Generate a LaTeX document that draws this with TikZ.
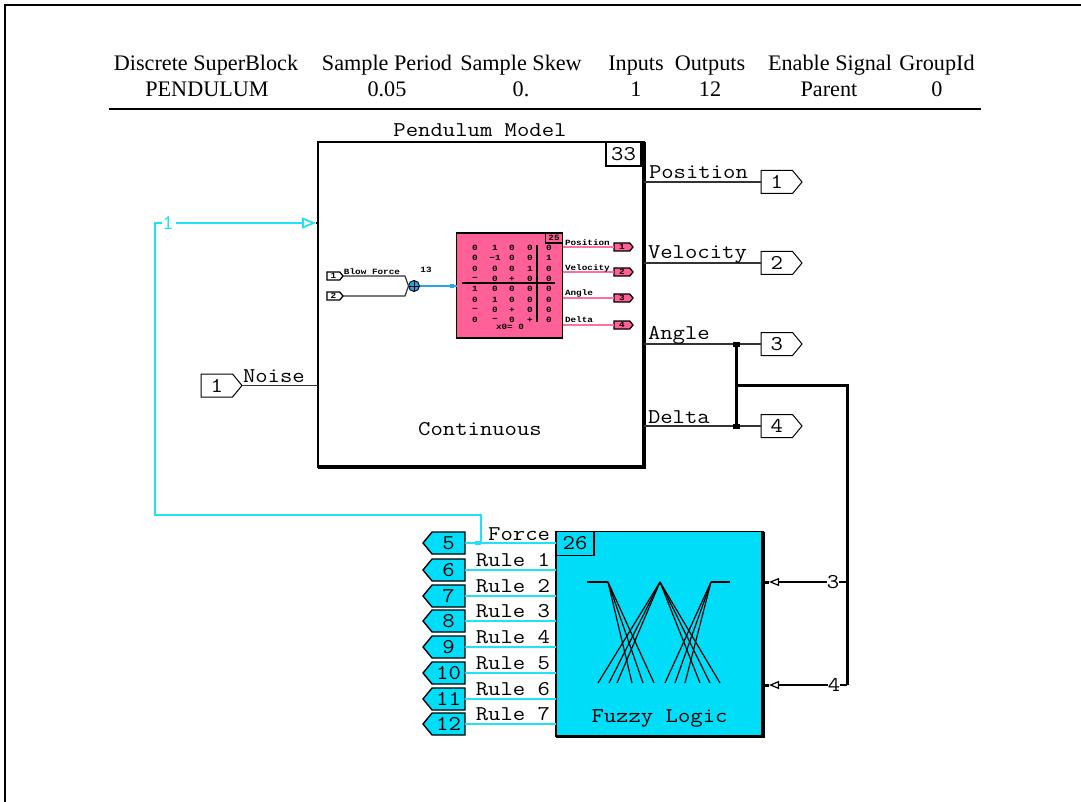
\documentclass[tikz,border=0pt]{standalone}
\usepackage{fontspec}
\usetikzlibrary{shapes.symbols,arrows.meta}
\setmainfont{Liberation Serif}
\newfontfamily\monof[FakeStretch=1.143]{Latin Modern Mono}
\newfontfamily\tinyf[FakeStretch=1.167]{Liberation Mono Bold}
\definecolor{fzcyan}{HTML}{00DDF8}
\definecolor{wirecyan}{HTML}{1FE3F5}
\definecolor{blkpink}{HTML}{FF6098}
\definecolor{wirepink}{HTML}{FF70A0}
\definecolor{sumblue}{HTML}{25A5E8}
\tikzset{
  every node/.style={inner sep=0pt,outer sep=0pt},
  hdr/.style={font=\fontsize{22.2}{22.2}\selectfont,anchor=base},
  lbl/.style={font=\monof\fontsize{21}{21}\selectfont},
  tiny/.style={font=\tinyf\fontsize{8}{8}\selectfont},
  block/.style={draw=black,line width=1.5pt,anchor=north west},
  nbox/.style={draw=black,line width=1.2pt,anchor=north east,lbl,align=center},
  outr/.style={signal,signal to=east,signal from=nowhere,signal pointer angle=101,draw=black,line width=1pt,minimum width=41pt,minimum height=23pt,anchor=west,lbl},
  outl/.style={signal,signal to=west,signal from=nowhere,signal pointer angle=101,draw=black,line width=1.4pt,fill=fzcyan,minimum width=42pt,minimum height=22pt,anchor=east,lbl},
  mport/.style={signal,signal to=east,signal from=nowhere,signal pointer angle=101,draw=black,line width=1.3pt,minimum width=19pt,minimum height=8pt,anchor=west,tiny},
  wire/.style={draw=black!80,line width=1.4pt},
  cwire/.style={draw=wirecyan,line width=1.8pt},
  bus/.style={draw=black,line width=3pt},
  dotj/.style={fill=black,minimum width=7pt,minimum height=5pt},
  fan/.style={draw=black,line width=1.2pt},
  opena/.style={-{Triangle[open,length=14pt,width=11pt]}},
  openb/.style={-{Triangle[open,length=10pt,width=8pt]}},
}
\begin{document}
\begin{tikzpicture}[x=1pt,y=-1pt]
\useasboundingbox (0,0) rectangle (1081,802);
\fill[white] (0,0) rectangle (1081,802);
\draw[black,line width=2pt] (5,802) -- (5,5) -- (1081,5);
% header
\node[hdr] (h1) at (206,71) {Discrete SuperBlock};
\node[hdr] (h2) at (387,71) {Sample Period};
\node[hdr] (h3) at (521,71) {Sample Skew};
\node[hdr] (h4) at (636,71) {Inputs};
\node[hdr] (h5) at (710,71) {Outputs};
\node[hdr] (h6) at (830,71) {Enable Signal};
\node[hdr] (h7) at (937,71) {GroupId};
\node[hdr] (v1) at (207,96.5) {PENDULUM};
\node[hdr] (v2) at (387,96.5) {0.05};
\node[hdr] (v3) at (521,96.5) {0.};
\node[hdr] (v4) at (636,96.5) {1};
\node[hdr] (v5) at (710,96.5) {12};
\node[hdr] (v6) at (829,96.5) {Parent};
\node[hdr] (v7) at (937,96.5) {0};
\draw[black,line width=2.6pt] (109,109) -- (981,109);
% pendulum block
\node[block,minimum width=326pt,minimum height=325pt] (pm) at (318,142) {};
\draw[black,line width=3.5pt] (pm.north east) -- (pm.south east) -- (pm.south west);
\node[nbox,minimum width=35pt,minimum height=24pt] (pmn) at (641,142) {33};
\node[lbl] (pmt) at (480,130) {Pendulum Model};
\node[lbl] (pmc) at (480,429.5) {Continuous};
% outports
\node[outr] (o1) at (761,182) {1};
\node[outr] (o2) at (761,263) {2};
\node[outr] (o3) at (761,344) {3};
\node[outr] (o4) at (761,426) {4};
\foreach \n in {1,2,3,4} \draw[wire] (pm.east |- o\n.west) -- (o\n.west);
\node[lbl,anchor=west] (lp) at (649,172.5) {Position};
\node[lbl,anchor=west] (lv) at (648,254.5) {Velocity};
\node[lbl,anchor=west] (la) at (648,335.5) {Angle};
\node[lbl,anchor=west] (ld) at (648,417.5) {Delta};
\node[dotj] (j3) at (736,344) {};
\node[dotj] (j4) at (736,426) {};
\draw[bus] (j3) -- (j4);
% inport noise
\node[outr] (in1) at (201,385.5) {1};
\draw[wire] (in1.east) -- (pm.west |- in1.east);
\node[lbl,anchor=west] (ln) at (243,376.5) {Noise};
% inner pink block
\node[draw=black,line width=1.3pt,fill=blkpink,minimum width=106pt,minimum height=105pt,anchor=north west] (ib) at (456.5,233) {};
\node[draw=black,line width=1.1pt,anchor=north east,minimum width=17pt,minimum height=10pt,tiny] (ibn) at (ib.north east) {25};
\draw[black,line width=1.2pt] (537,245) -- (537,322);
\draw[black,line width=1.2pt] (462,283) -- (555,283);
\foreach \r/\yy/\a/\b/\c/\d/\e in {1/247.5/0/1/0/0/0,2/257.5/0/−1/0/0/1,3/268.5/0/0/0/1/0,4/279/−/0/+/0/0,5/289/1/0/0/0/0,6/300/0/1/0/0/0,7/310/−/0/+/0/0,8/320/0/−/0/+/0}{
  \node[tiny] (ma\r) at (475,\yy) {\a};
  \node[tiny] (mb\r) at (495,\yy) {\b};
  \node[tiny] (mc\r) at (512,\yy) {\c};
  \node[tiny] (md\r) at (530,\yy) {\d};
  \node[tiny] (me\r) at (549,\yy) {\e};
}
\node[tiny] (mx) at (510,327) {x0= 0};
\node[mport,fill=blkpink] (po1) at (614,247) {1};
\node[mport,fill=blkpink] (po2) at (614,272) {2};
\node[mport,fill=blkpink] (po3) at (614,298) {3};
\node[mport,fill=blkpink] (po4) at (614,325) {4};
\foreach \n in {1,2,3,4} \draw[draw=wirepink,line width=1.4pt] (ib.east |- po\n.west) -- (po\n.west);
\node[tiny,anchor=west] (pl1) at (565,243) {Position};
\node[tiny,anchor=west] (pl2) at (565,268) {Velocity};
\node[tiny,anchor=west] (pl3) at (565,293) {Angle};
\node[tiny,anchor=west] (pl4) at (565,320) {Delta};
\node[mport,minimum width=16pt] (pi1) at (327,276) {1};
\node[mport,minimum width=16pt] (pi2) at (327,296) {2};
\node[circle,draw=black,line width=.9pt,fill=sumblue,minimum size=11pt] (sum) at (414,286) {};
\draw[black,line width=.8pt] (sum.west) -- (sum.east) (sum.north) -- (sum.south);
\draw[black!80,line width=1.2pt] (pi1.east) -- (405,276) -- (sum.west);
\draw[black!80,line width=1.2pt] (pi2.east) -- (405,296) -- (sum.west);
\node[tiny,anchor=center] (pif) at (372,271.5) {Blow Force};
\node[tiny] (sn) at (426,270) {13};
\draw[draw=sumblue,line width=1.8pt] (sum.east) -- (ib.west |- sum.east);
\node[fill=sumblue,minimum width=4pt,minimum height=4pt] (sd) at (451.5,285.5) {};
% fuzzy block
\node[block,draw=black,fill=fzcyan,minimum width=207pt,minimum height=205pt] (fz) at (556,531.5) {};
\draw[black,line width=3.5pt] (fz.north east) -- (fz.south east) -- (fz.south west);
\node[block,line width=1.2pt,minimum width=38pt,minimum height=24pt,lbl] (fzn) at (556,531.5) {26};
\node[lbl] (fzt) at (659.5,718.5) {Fuzzy Logic};
% fuzzy icon
\draw[fan] (587,582) -- (608,582);
\foreach \b in {632,643,654} \draw[fan] (608,582) -- (\b,683);
\foreach \b in {598,609,617} \draw[fan] (660,582) -- (\b,683);
\foreach \b in {700,710,720} \draw[fan] (660,582) -- (\b,683);
\foreach \b in {665,675,685} \draw[fan] (711,582) -- (\b,683);
\draw[fan] (711,582) -- (730,582);
% left outports
\foreach \n/\yy in {5/543,6/570,7/596,8/621,9/647,10/673,11/699,12/724}{
  \node[outl] (f\n) at (465,\yy) {\n};
}
\foreach \n in {5,6,7,8,9,10,11,12} \draw[cwire] (f\n.east) -- (fz.west |- f\n.east);
\node[lbl,anchor=east] (fr0) at (550,534.5) {Force};
\foreach \n/\yy/\t in {1/560.5/Rule 1,2/586.5/Rule 2,3/611.5/Rule 3,4/637.5/Rule 4,5/663.5/Rule 5,6/689.5/Rule 6,7/714.5/Rule 7}{
  \node[lbl,anchor=east] (fr\n) at (550,\yy) {\t};
}
% feedback
\node[fill=wirecyan,minimum width=6pt,minimum height=4pt] (fd) at (478,543) {};
\node[lbl,text=wirecyan] (fb) at (168,223) {1};
\coordinate (fa) at (481,515);
\coordinate (fc) at (155,515);
\coordinate (fe) at (155,223);
\coordinate (ft) at (316,223);
\draw[cwire] (481,543) -- (fa) -- (fc) -- (fe) -- (fb.west);
\draw[cwire,opena] (176,223) -- (ft);
\draw[black,line width=1.5pt] (ft) -- (pm.west |- ft);
% feedback from states
\coordinate (bj) at (736,385);
\coordinate (bt) at (847,385);
\coordinate (bb) at (847,685);
\draw[bus] (bj) -- (bt) -- (bb);
\node[lbl] (t3) at (833,582) {3};
\node[lbl] (t4) at (834,685) {4};
\draw[black,line width=1.2pt] (847,582) -- (t3.east);
\draw[black,line width=1.2pt] (bb) -- (t4.east);
\draw[black,line width=1.2pt,openb,shorten >=6pt] (t3.west) -- (fz.east |- t3);
\draw[black,line width=1.2pt,openb,shorten >=6pt] (t4.west) -- (fz.east |- t4);
\draw[black,line width=3pt] (fz.east |- t3) -- ++(6,0);
\draw[black,line width=3pt] (fz.east |- t4) -- ++(6,0);
\end{tikzpicture}
\end{document}
